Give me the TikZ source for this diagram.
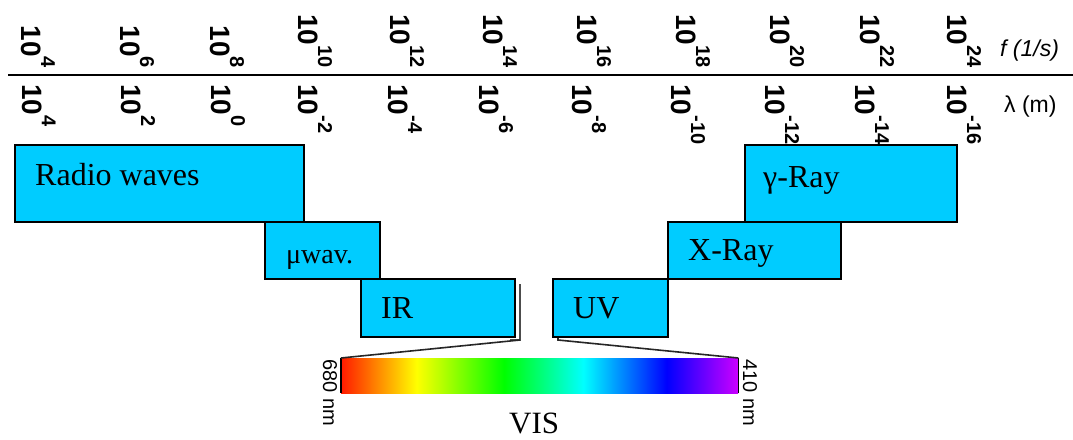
\documentclass[tikz,border=0pt]{standalone}
\usepackage{fontspec}
\setmainfont{Liberation Serif}
\setsansfont{Liberation Sans}
\definecolor{bandcyan}{HTML}{00CCFF}
\definecolor{visred}{HTML}{FF1A00}
\definecolor{visviolet}{HTML}{CC00FF}
\pgfdeclarehorizontalshading{visband}{100bp}{color(0bp)=(visred); color(25bp)=(visred); color(34.5bp)=(yellow); color(45.5bp)=(green); color(55.5bp)=(cyan); color(66bp)=(blue); color(75bp)=(visviolet); color(100bp)=(visviolet)}
\newcommand{\pw}[1]{\raisebox{20pt}{\fontsize{20}{20}\selectfont #1}}
\begin{document}
\begin{tikzpicture}[x=1pt,y=-1pt,
  band/.style={draw=black, line width=2pt, fill=bandcyan, inner sep=0pt, anchor=north west},
  bandlbl/.style={anchor=base west, inner sep=0pt, font=\fontsize{32}{32}\selectfont},
  tick/.style={rotate=-90, inner sep=0pt, font=\sffamily\bfseries\fontsize{28}{28}\selectfont},
  unitlbl/.style={anchor=base west, inner sep=0pt, font=\sffamily\fontsize{23}{23}\selectfont},
  nmlbl/.style={rotate=-90, anchor=base west, inner sep=0pt, font=\sffamily\fontsize{20}{20}\selectfont},
  callout/.style={line width=1.6pt, black!85}]
\useasboundingbox (0,0) rectangle (1073,439);
% frequency above the rule, wavelength below it
\foreach \x/\e [count=\i] in {21/4,120/6,210/8,298/10,390/12,483/14,577/16,676/18,770/20,860/22,947/24} { \node[tick, anchor=base east] (f\i) at (\x,68) {10\pw{\e}}; }
\foreach \x/\e [count=\i] in {22/4,121/2,211/0,298/-2,388/-4,479/-6,572/-8,671/-10,765/-12,855/-14,947/-16} { \node[tick, anchor=base west] (w\i) at (\x,84) {10\pw{\e}}; }
\draw[line width=2pt] (8,75) -- (1073,75);
\node[unitlbl, font=\sffamily\itshape\fontsize{23}{23}\selectfont] (funit) at (1000,56) {f (1/s)};
\node[unitlbl] (lunit) at (1004,112) {λ (m)};
% bands
\node[band, minimum width=289, minimum height=77] (radio) at (14,144) {};
\node[band, minimum width=115, minimum height=57] (muwav) at (264,221) {};
\node[band, minimum width=212, minimum height=77] (gamma) at (744,144) {};
\node[band, minimum width=173, minimum height=57] (xray) at (667,221) {};
\node[band, minimum width=154, minimum height=58] (ir) at (360,278) {};
\node[band, minimum width=115, minimum height=58] (uv) at (552,278) {};
\draw[gray!60!black, line width=1.6pt] ([xshift=4pt,yshift=-6pt]ir.north east) -- ([xshift=4pt,yshift=-2pt]ir.south east) -- ([xshift=-6pt,yshift=-2pt]ir.south east);
\node[bandlbl] (radiotxt) at (35,185) {Radio waves};
\node[bandlbl, font=\fontsize{28}{28}\selectfont] (muwavtxt) at (286,263) {μwav.};
\node[bandlbl] (gammatxt) at (763,187) {γ-Ray};
\node[bandlbl] (xraytxt) at (688,260) {X-Ray};
\node[bandlbl] (irtxt) at (381,318) {IR};
\node[bandlbl] (uvtxt) at (573,318) {UV};
% visible part
\node[anchor=north west, inner sep=0pt, minimum width=397, minimum height=35, shade, shading=visband] (bar) at (341,358) {};
\draw[line width=1.6pt] (bar.north west) -- (bar.south west) (bar.north east) -- (bar.south east);
\draw[callout] ([xshift=4pt,yshift=-2pt]ir.south east) -- (bar.north west);
\draw[callout] ([xshift=6pt]uv.south west) -- ++(0,2) -- (bar.north east);
\node[nmlbl] (nmleft) at (323,359) {680 nm};
\node[nmlbl] (nmright) at (743,359) {410 nm};
\node[bandlbl, font=\fontsize{31}{31}\selectfont] (vis) at (509,433) {VIS};
\end{tikzpicture}
\end{document}
